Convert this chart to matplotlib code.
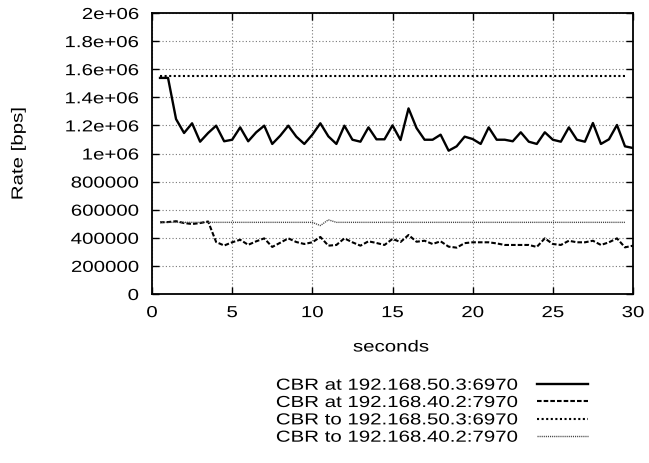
import matplotlib
matplotlib.use("Agg")
import matplotlib.pyplot as plt
from matplotlib.lines import Line2D
from matplotlib.patheffects import AbstractPathEffect
from matplotlib.transforms import Affine2D
import numpy as np

# sample times (0.5 s steps)
t_at = np.arange(1, 61) * 0.5          # 0.5 .. 30.0
t_to = np.arange(1, 60) * 0.5          # 0.5 .. 29.5

# received rate at 192.168.50.3:6970
at_50_3 = [1538e3, 1538e3, 1245e3, 1146e3, 1215e3, 1084e3, 1146e3, 1198e3, 1087e3, 1098e3,
           1186e3, 1087e3, 1151e3, 1198e3, 1068e3, 1127e3, 1198e3, 1120e3, 1068e3, 1134e3,
           1215e3, 1122e3, 1068e3, 1198e3, 1098e3, 1084e3, 1186e3, 1101e3, 1101e3, 1200e3,
           1096e3, 1321e3, 1181e3, 1098e3, 1098e3, 1134e3, 1020e3, 1051e3, 1120e3, 1103e3,
           1068e3, 1186e3, 1098e3, 1098e3, 1087e3, 1151e3, 1084e3, 1068e3, 1151e3, 1098e3,
           1084e3, 1186e3, 1098e3, 1084e3, 1217e3, 1068e3, 1101e3, 1203e3, 1051e3, 1039e3]

# received rate at 192.168.40.2:7970
at_40_2 = [510e3, 512e3, 518e3, 505e3, 498e3, 505e3, 516e3, 370e3, 345e3, 368e3,
           386e3, 350e3, 375e3, 396e3, 335e3, 365e3, 396e3, 370e3, 356e3, 368e3,
           406e3, 344e3, 349e3, 396e3, 368e3, 344e3, 375e3, 363e3, 349e3, 392e3,
           370e3, 420e3, 372e3, 379e3, 356e3, 375e3, 337e3, 330e3, 362e3, 368e3,
           368e3, 368e3, 360e3, 349e3, 349e3, 349e3, 349e3, 335e3, 396e3, 356e3,
           349e3, 379e3, 368e3, 368e3, 379e3, 349e3, 368e3, 396e3, 332e3, 344e3]

# sent rates
to_50_3 = [1550e3] * 59
to_40_2 = [510e3] * 20 + [487e3, 528e3] + [510e3] * 37

labels = ['CBR at 192.168.50.3:6970', 'CBR at 192.168.40.2:7970',
          'CBR to 192.168.50.3:6970', 'CBR to 192.168.40.2:7970']

y_ticks = [0, 200000, 400000, 600000, 800000, 1000000, 1200000, 1400000, 1600000, 1800000, 2000000]
y_labels = ["0", "200000", "400000", "600000", "800000", "1e+06", "1.2e+06",
            "1.4e+06", "1.6e+06", "1.8e+06", "2e+06"]
x_ticks = [0, 5, 10, 15, 20, 25, 30]


class Stretch(AbstractPathEffect):
    # widen glyphs horizontally (gnuplot's font renders wider than Arial)
    def __init__(self, sx=1.28, anchor='center'):
        super().__init__()
        self.sx = sx
        self.anchor = anchor

    def draw_path(self, renderer, gc, tpath, affine, rgbFace=None):
        ext = tpath.get_extents()
        if self.anchor == 'left':
            x0 = ext.x0
        elif self.anchor == 'right':
            x0 = ext.x1
        else:
            x0 = (ext.x0 + ext.x1) / 2
        aff = Affine2D().translate(-x0, 0).scale(self.sx, 1).translate(x0, 0) + affine
        renderer.draw_path(gc, tpath, aff, rgbFace)


FS = 11.5
SX = 1.28
plt.rcParams['font.family'] = ['Liberation Sans', 'DejaVu Sans']

W, H = 649, 464
fig = plt.figure(figsize=(6.49, 4.64), dpi=100)
ax = fig.add_axes([152 / W, 1 - 295 / H, 481 / W, 281 / H])

styles = [dict(color='black', lw=1.7, linestyle='-'),
          dict(color='black', lw=1.5, linestyle=(0, (2.2, 1.0))),
          dict(color='black', lw=1.5, linestyle=(0, (1.0, 1.2))),
          dict(color='#444444', lw=1.0, linestyle=(0, (0.8, 0.7)))]

ax.plot(t_at, at_50_3, **styles[0])
ax.plot(t_at, at_40_2, **styles[1])
ax.plot(t_to, to_50_3, **styles[2])
ax.plot(t_to, to_40_2, **styles[3])

ax.set_xlim(0, 30)
ax.set_ylim(0, 2000000)
ax.set_xticks(x_ticks)
ax.set_yticks(y_ticks)
ax.set_yticklabels(y_labels)
ax.tick_params(direction='in', top=True, right=True, length=5, width=1, labelsize=FS)
ax.tick_params(axis='x', pad=8)
ax.tick_params(axis='y', pad=9.5)
ax.grid(True, color='#777777', linestyle=(0, (1, 2)), lw=0.8)
for s in ax.spines.values():
    s.set_linewidth(1.3)

for tk in ax.xaxis.get_major_ticks():
    tk.label1.set_path_effects([Stretch(SX, 'center')])
for tk in ax.yaxis.get_major_ticks():
    tk.label1.set_path_effects([Stretch(SX, 'right')])

fig.text(391 / W, 1 - 348 / H, "seconds", fontsize=FS, ha='center', va='center',
         path_effects=[Stretch(SX, 'center')])
fig.text(18 / W, 1 - 154.5 / H, "Rate [bps]", fontsize=FS, ha='center', va='center',
         rotation=90, path_effects=[Stretch(SX, 'center')])

# key below the plot: right-aligned text, sample line to the right
row_y = [385, 402.3, 419.7, 437]
for lab, st, ry in zip(labels, styles, row_y):
    fig.text(518 / W, 1 - (ry + 5.7) / H, lab, fontsize=FS, ha='right', va='baseline',
             path_effects=[Stretch(SX, 'right')])
    fig.add_artist(Line2D([537 / W, 588 / W], [1 - ry / H, 1 - ry / H],
                          transform=fig.transFigure, **st))

fig.savefig("out.png", dpi=100)
